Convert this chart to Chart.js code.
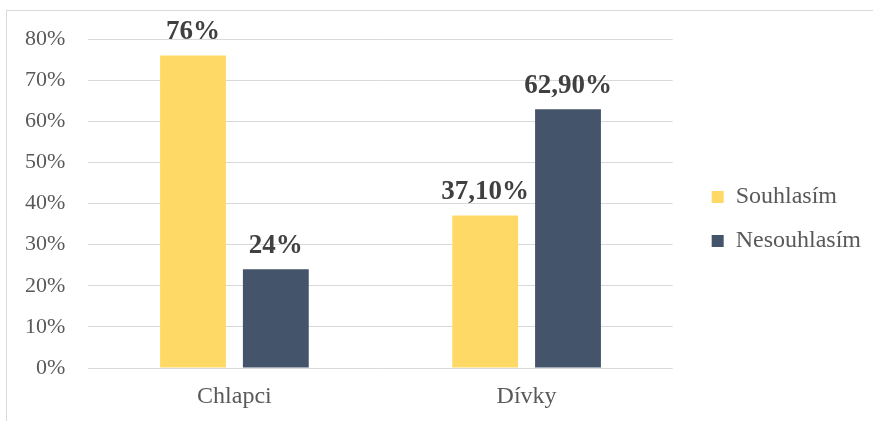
<!DOCTYPE html>
<html>
<head>
<meta charset="utf-8">
<script src="https://cdn.jsdelivr.net/npm/chart.js@4"></script>
<style>
  html, body { margin: 0; padding: 0; background: #fff; overflow: hidden; }
  .frame { position: absolute; left: 6px; top: 10px; width: 900px; height: 440px; border: 1px solid #d9d9d9; }
  .wrap { position: absolute; left: 0; top: 0; width: 873px; height: 421px; }
</style>
</head>
<body>
<div class="frame"></div>
<div class="wrap"><canvas id="chart"></canvas></div>
<script>
  // Kategorie a hodnoty (v %)
  const categories = ['Chlapci', 'Dívky'];
  const souhlasim = [76, 37.1];
  const nesouhlasim = [24, 62.9];
  const valueLabels = [['76%', '37,10%'], ['24%', '62,90%']];
  const yTicks = [0, 10, 20, 30, 40, 50, 60, 70, 80];

  const serif = "'Liberation Serif', 'Times New Roman', serif";
  Chart.defaults.font.family = serif;

  // popisky hodnot nad sloupci
  const barLabels = {
    id: 'barLabels',
    afterDatasetsDraw(chart) {
      const ctx = chart.ctx;
      ctx.save();
      ctx.font = 'bold 27px ' + serif;
      ctx.fillStyle = '#404040';
      ctx.textAlign = 'center';
      ctx.textBaseline = 'alphabetic';
      chart.data.datasets.forEach((ds, i) => {
        chart.getDatasetMeta(i).data.forEach((bar, j) => {
          ctx.fillText(valueLabels[i][j], bar.x, bar.y - 16);
        });
      });
      ctx.restore();
    }
  };

  // legenda kousek dál od grafu
  const legendShift = {
    id: 'legendShift',
    afterLayout(chart) {
      chart.legend.left += 19;
      chart.legend.right += 19;
      chart.legend.top -= 11;
      chart.legend.bottom -= 11;
    }
  };

  new Chart(document.getElementById('chart'), {
    type: 'bar',
    data: {
      labels: categories,
      datasets: [
        {
          label: 'Souhlasím',
          data: souhlasim,
          backgroundColor: '#FFD966',
          categoryPercentage: 0.567,
          barPercentage: 0.795
        },
        {
          label: 'Nesouhlasím',
          data: nesouhlasim,
          backgroundColor: '#44546A',
          categoryPercentage: 0.567,
          barPercentage: 0.795
        }
      ]
    },
    options: {
      responsive: true,
      maintainAspectRatio: false,
      animation: false,
      layout: { padding: { left: 2, top: 39, right: 21, bottom: 0 } },
      plugins: {
        legend: {
          position: 'right',
          labels: {
            boxWidth: 12,
            boxHeight: 12,
            padding: 20,
            color: '#595959',
            font: { family: serif, size: 24 }
          }
        },
        tooltip: { enabled: false }
      },
      scales: {
        y: {
          min: 0,
          max: 80,
          afterBuildTicks(scale) {
            scale.ticks = yTicks.map(v => ({ value: v }));
          },
          border: { display: false },
          grid: { color: '#d9d9d9', lineWidth: 1, drawTicks: false },
          ticks: {
            padding: 23,
            color: '#595959',
            font: { family: serif, size: 22 },
            callback: v => v + '%'
          }
        },
        x: {
          afterFit(scale) {
            scale.height = 53;
          },
          border: { display: false },
          grid: { display: false, drawTicks: false },
          ticks: {
            padding: 14,
            color: '#595959',
            font: { family: serif, size: 24 }
          }
        }
      }
    },
    plugins: [barLabels, legendShift]
  });
</script>
</body>
</html>
